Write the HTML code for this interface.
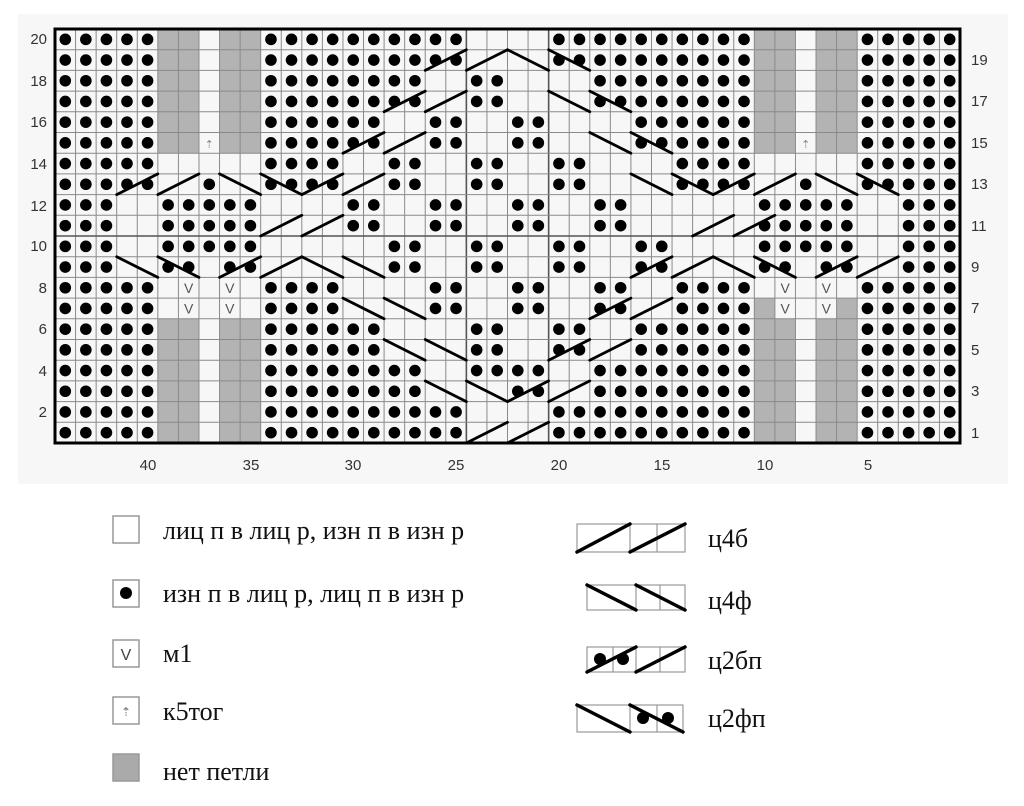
<!DOCTYPE html>
<html><head><meta charset="utf-8">
<style>
html,body{margin:0;padding:0;background:#fff;width:1024px;height:806px;overflow:hidden}
svg{display:block}
.n{font-family:"Liberation Sans",sans-serif;font-size:15px;fill:#333}
.t{font-family:"Liberation Serif","Noto Serif CJK SC",serif;font-size:26px;fill:#111}
</style></head><body>
<svg id="s" width="1024" height="806" viewBox="0 0 1024 806" xmlns="http://www.w3.org/2000/svg">
<rect x="18" y="14" width="990" height="470" fill="#f7f7f7"/>
<g id="grid"></g>
<g class="n" text-anchor="end">
<text x="47" y="44">20</text><text x="47" y="86">18</text><text x="47" y="127">16</text><text x="47" y="169">14</text><text x="47" y="211">12</text><text x="47" y="251">10</text><text x="47" y="293">8</text><text x="47" y="334">6</text><text x="47" y="376">4</text><text x="47" y="417">2</text>
</g>
<g class="n" text-anchor="start">
<text x="971" y="65">19</text><text x="971" y="106">17</text><text x="971" y="148">15</text><text x="971" y="189">13</text><text x="971" y="231">11</text><text x="971" y="272">9</text><text x="971" y="313">7</text><text x="971" y="355">5</text><text x="971" y="396">3</text><text x="971" y="438">1</text>
</g>
<g class="n" text-anchor="middle">
<text x="148" y="470">40</text><text x="251" y="470">35</text><text x="353" y="470">30</text><text x="456" y="470">25</text><text x="559" y="470">20</text><text x="662" y="470">15</text><text x="765" y="470">10</text><text x="868" y="470">5</text>
</g>
<!-- left legend -->
<g stroke="#999" stroke-width="1.5" fill="#fff">
<rect x="113" y="516" width="26" height="27"/>
<rect x="113" y="580" width="26" height="27"/>
<rect x="113" y="640" width="26" height="27"/>
<rect x="113" y="697" width="26" height="27"/>
<rect x="113" y="754" width="26" height="27" fill="#aaa"/>
</g>
<circle cx="126" cy="593" r="6" fill="#000"/>
<text x="126" y="660" text-anchor="middle" font-family="Liberation Sans,sans-serif" font-size="16" fill="#444">V</text>
<text x="126" y="716" text-anchor="middle" font-family="DejaVu Sans,sans-serif" font-size="12" fill="#777">⇡</text>
<g class="t">
<text x="163" y="539">лиц п в лиц р, изн п в изн р</text>
<text x="163" y="602">изн п в лиц р, лиц п в изн р</text>
<text x="163" y="662">м1</text>
<text x="163" y="720">к5тог</text>
<text x="163" y="780">нет петли</text>
<text x="708" y="547">ц4б</text>
<text x="708" y="609">ц4ф</text>
<text x="708" y="669">ц2бп</text>
<text x="708" y="727">ц2фп</text>
</g>
<!-- right legend -->
<g fill="none" stroke="#999" stroke-width="1.2">
<rect x="577" y="524" width="108" height="28"/><line x1="630" y1="524" x2="630" y2="552"/><line x1="657" y1="524" x2="657" y2="552"/>
<rect x="587" y="585" width="98" height="25"/><line x1="636" y1="585" x2="636" y2="610"/><line x1="660" y1="585" x2="660" y2="610"/>
<rect x="587" y="647" width="98" height="25"/><line x1="613" y1="647" x2="613" y2="672"/><line x1="636" y1="647" x2="636" y2="672"/><line x1="660" y1="647" x2="660" y2="672"/>
<rect x="577" y="705" width="106" height="27"/><line x1="630" y1="705" x2="630" y2="732"/><line x1="657" y1="705" x2="657" y2="732"/>
</g>
<g fill="#000"><circle cx="600" cy="659" r="6"/><circle cx="623" cy="659" r="6"/><circle cx="643" cy="718" r="6"/><circle cx="668" cy="718" r="6"/></g>
<g stroke="#000" stroke-width="3.5" stroke-linecap="round">
<line x1="577" y1="552" x2="630" y2="524"/><line x1="630" y1="552" x2="685" y2="524"/>
<line x1="587" y1="585" x2="636" y2="610"/><line x1="636" y1="585" x2="685" y2="610"/>
<line x1="587" y1="672" x2="636" y2="647"/><line x1="636" y1="672" x2="685" y2="647"/>
<line x1="577" y1="705" x2="630" y2="732"/><line x1="630" y1="705" x2="683" y2="732"/>
</g>
</svg>
<script>
(function(){
var X0=55,Y0=29,CW=905/44,RH=414/20;
var rows=[
"ooooogg.ggoooooooooo....oooooooooogg.ggooooo",
"ooooogg.ggoooooooooo....oooooooooogg.ggooooo",
"ooooogg.ggoooooooo..oo....oooooooogg.ggooooo",
"ooooogg.ggoooooooo..oo....oooooooogg.ggooooo",
"ooooogg.ggoooooo..oo..oo....oooooogg.ggooooo",
"ooooogg.ggoooooo..oo..oo....oooooogg.ggooooo",
"ooooo.....oooo..oo..oo..oo....oooo.....ooooo",
"ooooo..o..oooo..oo..oo..oo....oooo..o..ooooo",
"ooo..ooooo....oo..oo..oo..oo......ooooo..ooo",
"ooo..ooooo....oo..oo..oo..oo......ooooo..ooo",
"ooo..ooooo......oo..oo..oo..oo....ooooo..ooo",
"ooo..oo.oo......oo..oo..oo..oo....oo.oo..ooo",
"ooooo.v.v.oooo....oo..oo..oo..oooo.v.v.ooooo",
"ooooo.v.v.oooo....oo..oo..oo..oooogv.vgooooo",
"ooooogg.ggoooooo....oo..oo..oooooogg.ggooooo",
"ooooogg.ggoooooo....oo..oo..oooooogg.ggooooo",
"ooooogg.ggoooooooo..oooo..oooooooogg.ggooooo",
"ooooogg.ggoooooooo....oo..oooooooogg.ggooooo",
"ooooogg.ggoooooooooo....oooooooooogg.ggooooo",
"ooooogg.ggoooooooooo....oooooooooogg.ggooooo"];
var h='';
for(var i=0;i<20;i++){for(var c=0;c<44;c++){
 var ch=rows[i].charAt(c),x=X0+c*CW,y=Y0+i*RH;
 if(ch==='g')h+='<rect x="'+x+'" y="'+y+'" width="'+CW+'" height="'+RH+'" fill="#b3b3b3"/>';
}}
for(var c=0;c<=44;c++){var x=X0+c*CW;h+='<line x1="'+x+'" y1="'+Y0+'" x2="'+x+'" y2="'+(Y0+20*RH)+'" stroke="'+(c==24||c==20?'#555':'#8a8a8a')+'" stroke-width="'+(c==24||c==20?1.6:1)+'"/>';}
for(var r=0;r<=20;r++){var y=Y0+r*RH;h+='<line x1="'+X0+'" y1="'+y+'" x2="'+(X0+44*CW)+'" y2="'+y+'" stroke="'+(r==10?'#555':'#8a8a8a')+'" stroke-width="'+(r==10?1.6:1)+'"/>';}
for(var i=0;i<20;i++){for(var c=0;c<44;c++){
 var ch=rows[i].charAt(c),cx=X0+(c+.5)*CW,cy=Y0+(i+.5)*RH;
 if(ch==='o')h+='<circle cx="'+cx+'" cy="'+cy+'" r="5.8" fill="#000"/>';
 else if(ch==='v')h+='<text x="'+cx+'" y="'+(cy+5)+'" text-anchor="middle" font-family="Liberation Sans,sans-serif" font-size="14" fill="#555">V</text>';
}}
[7,36].forEach(function(c){h+='<text x="'+(X0+(c+.5)*CW)+'" y="'+(Y0+5.5*RH+5)+'" text-anchor="middle" font-family="DejaVu Sans,sans-serif" font-size="11" fill="#888">⇡</text>';});
var L={1:[[18,1],[20,1],[22,0],[24,0]],3:[[16,1],[18,1],[24,0],[26,0]],5:[[14,1],[16,1],[26,0],[28,0]],
7:[[3,1],[5,1],[8,0],[10,0],[12,1],[14,1],[28,0],[30,0],[32,1],[34,1],[37,0],[39,0]],
9:[[10,1],[12,1],[31,1],[33,1]],
11:[[3,0],[5,0],[8,1],[10,1],[12,0],[14,0],[28,1],[30,1],[32,0],[34,0],[37,1],[39,1]],
13:[[14,0],[16,0],[26,1],[28,1]],15:[[16,0],[18,0],[24,1],[26,1]],17:[[18,0],[20,0],[22,1],[24,1]],19:[[20,1],[22,1]]};
for(var k in L){var i=+k;L[k].forEach(function(s){var x1=X0+s[0]*CW,x2=x1+2*CW,yt=Y0+i*RH,yb=yt+RH;
 var a=s[1]?[x1,yb,x2,yt]:[x1,yt,x2,yb];
 h+='<line x1="'+a[0]+'" y1="'+a[1]+'" x2="'+a[2]+'" y2="'+a[3]+'" stroke="#000" stroke-width="2.8" stroke-linecap="round"/>';});}
h+='<rect x="'+X0+'" y="'+Y0+'" width="'+(44*CW)+'" height="'+(20*RH)+'" fill="none" stroke="#000" stroke-width="3"/>';
document.getElementById('grid').innerHTML=h;
})();
</script>
</body></html>
